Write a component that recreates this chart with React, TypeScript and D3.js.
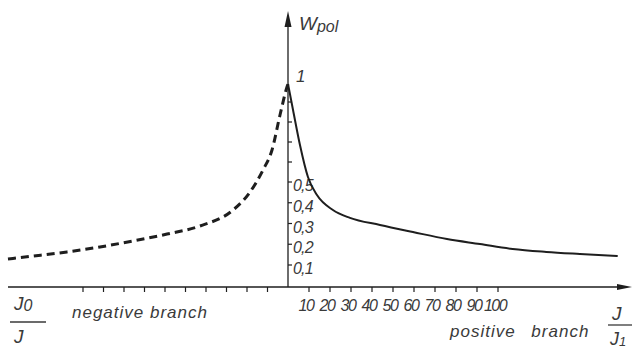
import React from "react";
import * as d3 from "d3";

// values (x in axis units, y = W_pol)
const NEG_X = [-136.6, -124.4, -107.8, -91.7, -75.6, -59, -42.9, -26.8, -18.5, -12.2, -7.8, -3.9, -0.5, 0];
const NEG_Y = [0.129, 0.143, 0.163, 0.187, 0.216, 0.249, 0.288, 0.365, 0.452, 0.56, 0.66, 0.835, 0.983, 1.0];
const POS_X = [0, 2.4, 5.7, 9.5, 13.8, 21.4, 29.5, 43.8, 59.5, 75.7, 91.4, 107, 123, 139, 157];
const POS_Y = [1.0, 0.86, 0.685, 0.525, 0.437, 0.365, 0.327, 0.293, 0.259, 0.225, 0.201, 0.177, 0.163, 0.153, 0.143];

const POS_TICKS = [10, 20, 30, 40, 50, 60, 70, 80, 90, 100];
const NEG_TICKS = [-10, -20, -30, -40, -50, -60, -70, -80, -90, -100];
const Y_TICKS = [0.1, 0.2, 0.3, 0.4, 0.5, 0.6, 0.7, 0.8, 0.9];
const Y_LABELS = ["0,1", "0,2", "0,3", "0,4", "0,5"];

const W = 632;
const H = 348;
const FONT = "'Liberation Sans', Arial, sans-serif";
const INK = "#1e1e1e";
const TXT = "#3a3a3a";

export default function App() {
  // hand-drawn axes: the scales are not quite even, so use piecewise domains
  const x = d3.scaleLinear().domain([-100, 0, 100]).range([83, 288, 498]);
  const y = d3.scaleLinear().domain([0, 0.1, 0.5, 0.9, 1]).range([287, 265, 182, 102, 84]);

  const x0 = x(0);
  const y0 = y(0);

  const line = d3
    .line<[number, number]>()
    .x((d) => x(d[0]))
    .y((d) => y(d[1]))
    .curve(d3.curveMonotoneX);

  const neg = line(NEG_X.map((v, i) => [v, NEG_Y[i]] as [number, number])) || "";
  const pos = line(POS_X.map((v, i) => [v, POS_Y[i]] as [number, number])) || "";

  const textStyle: React.CSSProperties = { fontFamily: FONT, fontStyle: "italic" };

  return (
    <svg
      width={W}
      height={H}
      style={{ position: "absolute", left: 0, top: 0, background: "#fff" }}
    >
      {/* horizontal axis */}
      <line x1={8} y1={y0} x2={620} y2={y0} stroke={INK} strokeWidth={1.3} />
      <path d={`M${632},${y0} L${617},${y0 - 3} L${617},${y0 + 3} Z`} fill={INK} />
      {[...NEG_TICKS, ...POS_TICKS].map((t) => (
        <line key={t} x1={x(t)} x2={x(t)} y1={y0} y2={y0 + 5} stroke={INK} strokeWidth={1.2} />
      ))}
      {POS_TICKS.map((t) => (
        <text
          key={t}
          x={x(t) - 3}
          y={311}
          textAnchor="middle"
          fontSize={16}
          letterSpacing={-1.5}
          fill={TXT}
          style={textStyle}
        >
          {t}
        </text>
      ))}

      {/* vertical axis */}
      <line x1={x0} y1={y0} x2={x0} y2={24} stroke={INK} strokeWidth={1.3} />
      <path d={`M${x0},${11} L${x0 - 3.5},${27} L${x0 + 3.5},${27} Z`} fill={INK} />
      {Y_TICKS.map((t) => (
        <line key={t} x1={x0} x2={x0 + 4} y1={y(t)} y2={y(t)} stroke={INK} strokeWidth={1.2} />
      ))}
      {Y_LABELS.map((l, i) => (
        <text
          key={l}
          x={293}
          y={y(Y_TICKS[i]) + 9}
          fontSize={16}
          letterSpacing={-0.8}
          fill={TXT}
          style={textStyle}
        >
          {l}
        </text>
      ))}
      <text x={296} y={y(1) - 2} fontSize={17} fill={TXT} style={textStyle}>
        1
      </text>
      <text x={299} y={30} fontSize={19} fill={TXT} style={textStyle}>
        W
        <tspan fontSize={16} dy={2}>
          pol
        </tspan>
      </text>

      {/* curves */}
      <path d={neg} fill="none" stroke={INK} strokeWidth={3} strokeDasharray="8 5" />
      <path d={pos} fill="none" stroke={INK} strokeWidth={2} />

      {/* left fraction J0 / J */}
      <text x={14} y={310} fontSize={19} fill={TXT} style={textStyle}>
        J
        <tspan fontSize={16} dy={1}>
          0
        </tspan>
      </text>
      <line x1={10} x2={46} y1={322} y2={322} stroke={TXT} strokeWidth={1.3} />
      <text x={14} y={343} fontSize={19} fill={TXT} style={textStyle}>
        J
      </text>

      <text x={72} y={318} fontSize={17} letterSpacing={1} fill={TXT} style={textStyle}>
        negative branch
      </text>
      <text
        x={450}
        y={337}
        fontSize={17}
        letterSpacing={1}
        wordSpacing={10}
        fill={TXT}
        style={textStyle}
      >
        positive branch
      </text>

      {/* right fraction J / J1 */}
      <text x={612} y={320} fontSize={19} fill={TXT} style={textStyle}>
        J
      </text>
      <line x1={608} x2={632} y1={325} y2={325} stroke={TXT} strokeWidth={1.3} />
      <text x={610} y={345} fontSize={18} fill={TXT} style={textStyle}>
        J
        <tspan fontSize={13} dy={1}>
          1
        </tspan>
      </text>
    </svg>
  );
}
